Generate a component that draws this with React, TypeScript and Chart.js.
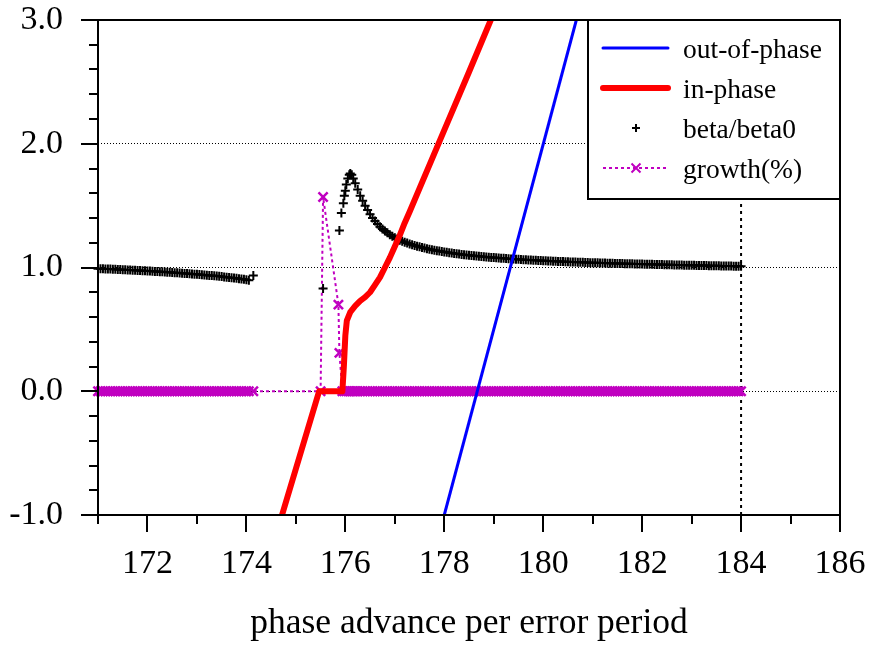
import React, { useEffect, useRef } from 'react';
import { Chart, registerables } from 'chart.js';

Chart.register(...registerables);

// ---- axis ticks ----
const X_TICKS = [172, 174, 176, 178, 180, 182, 184, 186];
const X_MINOR = [171, 172, 173, 174, 175, 176, 177, 178, 179, 180, 181, 182, 183, 184, 185, 186];
const Y_TICKS = [-1, 0, 1, 2, 3];
const Y_MINOR = [-1, -0.8, -0.6, -0.4, -0.2, 0, 0.2, 0.4, 0.6, 0.8, 1, 1.2, 1.4, 1.6, 1.8, 2, 2.2, 2.4, 2.6, 2.8, 3];

// ---- out-of-phase (blue line) ----
const OUT_X = [178.0, 180.67];
const OUT_Y = [-1.0, 3.0];

// ---- in-phase (red line) ----
const IN_X = [174.72, 175.47, 175.94, 175.97, 176.0, 176.03, 176.1, 176.2, 176.3, 176.4, 176.5, 176.6, 176.7, 176.8, 176.9, 177.0, 177.1, 177.2, 177.3, 177.5, 178.0, 178.5, 178.94];
const IN_Y = [-1.0, 0.0, 0.0, 0.2, 0.45, 0.57, 0.64, 0.69, 0.73, 0.76, 0.8, 0.86, 0.92, 1.0, 1.08, 1.17, 1.26, 1.36, 1.45, 1.64, 2.11, 2.58, 3.0];

// ---- beta/beta0 (+ markers) ----
const BAND_L_X = [
  171.0, 171.05, 171.1, 171.15, 171.2, 171.25, 171.3, 171.35, 171.4, 171.45,
  171.5, 171.55, 171.6, 171.65, 171.7, 171.75, 171.8, 171.85, 171.9, 171.95,
  172.0, 172.05, 172.1, 172.15, 172.2, 172.25, 172.3, 172.35, 172.4, 172.45,
  172.5, 172.55, 172.6, 172.65, 172.7, 172.75, 172.8, 172.85, 172.9, 172.95,
  173.0, 173.05, 173.1, 173.15, 173.2, 173.25, 173.3, 173.35, 173.4, 173.45,
  173.5, 173.55, 173.6, 173.65, 173.7, 173.75, 173.8, 173.85, 173.9, 173.95,
  174.0, 174.05,
];
const BETA_L = [
  0.99, 0.99, 0.989, 0.988, 0.987, 0.987, 0.986, 0.985, 0.984, 0.983,
  0.982, 0.981, 0.98, 0.979, 0.978, 0.977, 0.976, 0.975, 0.974, 0.973,
  0.972, 0.971, 0.97, 0.968, 0.967, 0.966, 0.965, 0.963, 0.962, 0.961,
  0.96, 0.958, 0.957, 0.955, 0.954, 0.952, 0.951, 0.949, 0.948, 0.946,
  0.945, 0.943, 0.942, 0.94, 0.938, 0.936, 0.935, 0.933, 0.931, 0.929,
  0.927, 0.924, 0.922, 0.92, 0.918, 0.915, 0.913, 0.91, 0.908, 0.905,
  0.902, 0.896,
];

const BETA_MID_X = [174.14, 175.55, 175.88, 175.92, 175.96, 175.98, 176.0, 176.02, 176.05, 176.08, 176.1, 176.13, 176.16, 176.2];
const BETA_MID = [0.935, 0.83, 1.3, 1.44, 1.52, 1.58, 1.62, 1.67, 1.72, 1.75, 1.76, 1.75, 1.72, 1.68];

const BAND_R_X = [
  176.25, 176.3, 176.35, 176.4, 176.45, 176.5, 176.55, 176.6, 176.65, 176.7, 176.75, 176.8, 176.85, 176.9, 176.95,
  177.0, 177.05, 177.1, 177.15, 177.2, 177.25, 177.3, 177.35, 177.4, 177.45, 177.5, 177.55, 177.6, 177.65, 177.7, 177.75, 177.8, 177.85, 177.9, 177.95,
  178.0, 178.05, 178.1, 178.15, 178.2, 178.25, 178.3, 178.35, 178.4, 178.45, 178.5, 178.55, 178.6, 178.65, 178.7, 178.75, 178.8, 178.85, 178.9, 178.95,
  179.0, 179.05, 179.1, 179.15, 179.2, 179.25, 179.3, 179.35, 179.4, 179.45, 179.5, 179.55, 179.6, 179.65, 179.7, 179.75, 179.8, 179.85, 179.9, 179.95,
  180.0, 180.05, 180.1, 180.15, 180.2, 180.25, 180.3, 180.35, 180.4, 180.45, 180.5, 180.55, 180.6, 180.65, 180.7, 180.75, 180.8, 180.85, 180.9, 180.95,
  181.0, 181.05, 181.1, 181.15, 181.2, 181.25, 181.3, 181.35, 181.4, 181.45, 181.5, 181.55, 181.6, 181.65, 181.7, 181.75, 181.8, 181.85, 181.9, 181.95,
  182.0, 182.05, 182.1, 182.15, 182.2, 182.25, 182.3, 182.35, 182.4, 182.45, 182.5, 182.55, 182.6, 182.65, 182.7, 182.75, 182.8, 182.85, 182.9, 182.95,
  183.0, 183.05, 183.1, 183.15, 183.2, 183.25, 183.3, 183.35, 183.4, 183.45, 183.5, 183.55, 183.6, 183.65, 183.7, 183.75, 183.8, 183.85, 183.9, 183.95,
  184.0,
];
const BETA_R = [
  1.63, 1.58, 1.54, 1.5, 1.465, 1.43, 1.4, 1.375, 1.352, 1.33, 1.312, 1.295, 1.28, 1.265, 1.252,
  1.24, 1.23, 1.22, 1.212, 1.205, 1.197, 1.19, 1.184, 1.178, 1.172, 1.167, 1.162, 1.157, 1.152, 1.148, 1.144, 1.14, 1.136, 1.133, 1.129,
  1.126, 1.123, 1.12, 1.117, 1.114, 1.111, 1.109, 1.106, 1.104, 1.101, 1.099, 1.097, 1.095, 1.093, 1.091, 1.089, 1.087, 1.085, 1.083, 1.081,
  1.08, 1.078, 1.077, 1.075, 1.074, 1.072, 1.071, 1.069, 1.068, 1.067, 1.066, 1.064, 1.063, 1.062, 1.061, 1.06, 1.059, 1.058, 1.057, 1.056,
  1.055, 1.054, 1.053, 1.052, 1.051, 1.05, 1.049, 1.048, 1.048, 1.047, 1.046, 1.045, 1.045, 1.044, 1.043, 1.042, 1.042, 1.041, 1.04, 1.039,
  1.039, 1.038, 1.038, 1.037, 1.036, 1.036, 1.035, 1.034, 1.034, 1.033, 1.033, 1.032, 1.032, 1.031, 1.031, 1.03, 1.03, 1.029, 1.029, 1.028,
  1.028, 1.027, 1.027, 1.026, 1.026, 1.025, 1.025, 1.024, 1.024, 1.023, 1.023, 1.022, 1.022, 1.021, 1.021, 1.02, 1.02, 1.019, 1.019, 1.018,
  1.018, 1.018, 1.017, 1.017, 1.017, 1.016, 1.016, 1.015, 1.015, 1.015, 1.014, 1.014, 1.013, 1.013, 1.013, 1.012, 1.012, 1.011, 1.011, 1.01,
  1.01,
];

// ---- growth(%) (x markers, dotted line) ----
const GROWTH_L = [
  0, 0, 0, 0, 0, 0, 0, 0, 0, 0,
  0, 0, 0, 0, 0, 0, 0, 0, 0, 0,
  0, 0, 0, 0, 0, 0, 0, 0, 0, 0,
  0, 0, 0, 0, 0, 0, 0, 0, 0, 0,
  0, 0, 0, 0, 0, 0, 0, 0, 0, 0,
  0, 0, 0, 0, 0, 0, 0, 0, 0, 0,
  0, 0,
];
const GROWTH_MID_X = [174.14, 175.5, 175.55, 175.86, 175.88, 175.94, 175.98, 176.02, 176.06, 176.1, 176.14, 176.18, 176.22];
const GROWTH_MID = [0, 0, 1.57, 0.7, 0.31, 0, 0, 0, 0, 0, 0, 0, 0];
const GROWTH_R = [
  0, 0, 0, 0, 0, 0, 0, 0, 0, 0, 0, 0, 0, 0, 0,
  0, 0, 0, 0, 0, 0, 0, 0, 0, 0, 0, 0, 0, 0, 0, 0, 0, 0, 0, 0,
  0, 0, 0, 0, 0, 0, 0, 0, 0, 0, 0, 0, 0, 0, 0, 0, 0, 0, 0, 0,
  0, 0, 0, 0, 0, 0, 0, 0, 0, 0, 0, 0, 0, 0, 0, 0, 0, 0, 0, 0,
  0, 0, 0, 0, 0, 0, 0, 0, 0, 0, 0, 0, 0, 0, 0, 0, 0, 0, 0, 0,
  0, 0, 0, 0, 0, 0, 0, 0, 0, 0, 0, 0, 0, 0, 0, 0, 0, 0, 0, 0,
  0, 0, 0, 0, 0, 0, 0, 0, 0, 0, 0, 0, 0, 0, 0, 0, 0, 0, 0, 0,
  0, 0, 0, 0, 0, 0, 0, 0, 0, 0, 0, 0, 0, 0, 0, 0, 0, 0, 0, 0,
  0,
];

// ---- vertical marker line ----
const VLINE_X = [184, 184];
const VLINE_Y = [-1, 3];

const LEGEND_LABELS = ['out-of-phase', 'in-phase', 'beta/beta0', 'growth(%)'];

const BLUE = '#0000ff';
const RED = '#ff0000';
const MAGENTA = '#c000c0';
const FONT = '"Liberation Serif", "Times New Roman", serif';

const zip = (xs: number[], ys: number[]) => xs.map((x, i) => ({ x, y: ys[i] }));

const framePlugin = {
  id: 'framePlugin',
  afterDraw(chart: any) {
    const { ctx, chartArea: a, scales } = chart;
    const xs = scales.x;
    const ys = scales.y;
    ctx.save();
    ctx.strokeStyle = '#000';
    ctx.lineWidth = 2;
    ctx.setLineDash([]);
    ctx.strokeRect(a.left, a.top, a.right - a.left, a.bottom - a.top);
    ctx.beginPath();
    for (const v of X_MINOR) {
      const px = Math.round(xs.getPixelForValue(v));
      const len = X_TICKS.includes(v) ? 17 : 9;
      ctx.moveTo(px, a.bottom);
      ctx.lineTo(px, a.bottom + len);
    }
    for (const v of Y_MINOR) {
      const py = Math.round(ys.getPixelForValue(v));
      const len = Y_TICKS.includes(v) ? 17 : 9;
      ctx.moveTo(a.left, py);
      ctx.lineTo(a.left - len, py);
    }
    ctx.stroke();

    // legend box
    const bx = 588, by = a.top, bw = a.right - 588, bh = 179;
    ctx.fillStyle = '#fff';
    ctx.fillRect(bx, by, bw, bh);
    ctx.lineWidth = 2;
    ctx.strokeRect(bx, by, bw, bh);

    const rows = [48, 88, 128, 168];
    const x1 = 603, x2 = 668, xm = 636;
    ctx.lineCap = 'round';
    ctx.strokeStyle = BLUE;
    ctx.lineWidth = 3;
    ctx.beginPath(); ctx.moveTo(x1, rows[0]); ctx.lineTo(x2, rows[0]); ctx.stroke();
    ctx.strokeStyle = RED;
    ctx.lineWidth = 6;
    ctx.beginPath(); ctx.moveTo(x1, rows[1]); ctx.lineTo(x2, rows[1]); ctx.stroke();
    ctx.lineCap = 'butt';
    ctx.strokeStyle = '#000';
    ctx.lineWidth = 2;
    ctx.beginPath();
    ctx.moveTo(xm - 4, rows[2]); ctx.lineTo(xm + 4, rows[2]);
    ctx.moveTo(xm, rows[2] - 4); ctx.lineTo(xm, rows[2] + 4);
    ctx.stroke();
    ctx.strokeStyle = MAGENTA;
    ctx.lineWidth = 2;
    ctx.setLineDash([3, 3]);
    ctx.beginPath(); ctx.moveTo(x1, rows[3]); ctx.lineTo(x2, rows[3]); ctx.stroke();
    ctx.setLineDash([]);
    ctx.beginPath();
    ctx.moveTo(xm - 4.5, rows[3] - 4.5); ctx.lineTo(xm + 4.5, rows[3] + 4.5);
    ctx.moveTo(xm - 4.5, rows[3] + 4.5); ctx.lineTo(xm + 4.5, rows[3] - 4.5);
    ctx.stroke();

    ctx.fillStyle = '#000';
    ctx.font = `27.5px ${FONT}`;
    ctx.textAlign = 'left';
    ctx.textBaseline = 'alphabetic';
    LEGEND_LABELS.forEach((t, i) => ctx.fillText(t, 683, rows[i] + 10));
    ctx.restore();
  },
};

const zeroPadding = (s: any) => {
  s.paddingTop = 0;
  s.paddingBottom = 0;
  s.paddingLeft = 0;
  s.paddingRight = 0;
};

export default function App() {
  const ref = useRef<HTMLCanvasElement | null>(null);
  useEffect(() => {
    if (!ref.current) return;
    const chart = new Chart(ref.current, {
      type: 'scatter',
      data: {
        datasets: [
          {
            label: 'out-of-phase',
            data: zip(OUT_X, OUT_Y),
            showLine: true,
            borderColor: BLUE,
            backgroundColor: BLUE,
            borderWidth: 3,
            pointRadius: 0,
          },
          {
            label: 'in-phase',
            data: zip(IN_X, IN_Y),
            showLine: true,
            borderColor: RED,
            backgroundColor: RED,
            borderWidth: 6,
            borderJoinStyle: 'round',
            borderCapStyle: 'round',
            pointRadius: 0,
          },
          {
            label: 'beta/beta0',
            data: [...zip(BAND_L_X, BETA_L), ...zip(BETA_MID_X, BETA_MID), ...zip(BAND_R_X, BETA_R)],
            showLine: false,
            pointStyle: 'cross',
            pointRadius: 4.5,
            pointBorderWidth: 2,
            borderColor: '#000',
            backgroundColor: '#000',
            clip: false,
          },
          {
            label: 'growth(%)',
            data: [...zip(BAND_L_X, GROWTH_L), ...zip(GROWTH_MID_X, GROWTH_MID), ...zip(BAND_R_X, GROWTH_R)],
            showLine: true,
            borderColor: MAGENTA,
            backgroundColor: MAGENTA,
            borderWidth: 2,
            borderDash: [3, 3],
            pointStyle: 'crossRot',
            pointRadius: 6.5,
            pointBorderWidth: 2.5,
            clip: false,
          },
          {
            label: 'marker',
            data: zip(VLINE_X, VLINE_Y),
            showLine: true,
            borderColor: '#000',
            borderWidth: 2,
            borderDash: [3, 4],
            pointRadius: 0,
          },
        ],
      } as any,
      options: {
        animation: false,
        responsive: true,
        maintainAspectRatio: false,
        layout: { padding: { left: 0, right: 31, top: 20, bottom: 0 } },
        plugins: { legend: { display: false }, tooltip: { enabled: false } },
        scales: {
          x: {
            type: 'linear',
            min: 171,
            max: 186,
            afterBuildTicks: (s: any) => { s.ticks = X_TICKS.map((v) => ({ value: v })); },
            afterFit: (s: any) => { s.height = 133; zeroPadding(s); },
            ticks: {
              autoSkip: false,
              maxRotation: 0,
              padding: 29,
              color: '#000',
              font: { family: FONT, size: 34 },
              callback: (v: any) => String(v),
            },
            grid: { display: false, drawTicks: false },
            border: { display: false },
            title: {
              display: true,
              text: 'phase advance per error period',
              color: '#000',
              font: { family: FONT, size: 35.5 },
              padding: { top: 0, bottom: 3 },
            },
          },
          y: {
            type: 'linear',
            min: -1,
            max: 3,
            afterBuildTicks: (s: any) => { s.ticks = Y_TICKS.map((v) => ({ value: v })); },
            afterFit: (s: any) => { s.width = 98; zeroPadding(s); },
            ticks: {
              padding: 35,
              color: '#000',
              font: { family: FONT, size: 34 },
              callback: (v: any) => Number(v).toFixed(1),
            },
            grid: { drawTicks: false, color: '#000', lineWidth: 1 },
            border: { display: false, dash: [1, 2] },
          },
        },
      } as any,
      plugins: [framePlugin],
    });
    return () => chart.destroy();
  }, []);

  return (
    <div style={{ position: 'fixed', left: 0, top: 0, width: 871, height: 648, background: '#fff' }}>
      <canvas ref={ref} />
    </div>
  );
}
